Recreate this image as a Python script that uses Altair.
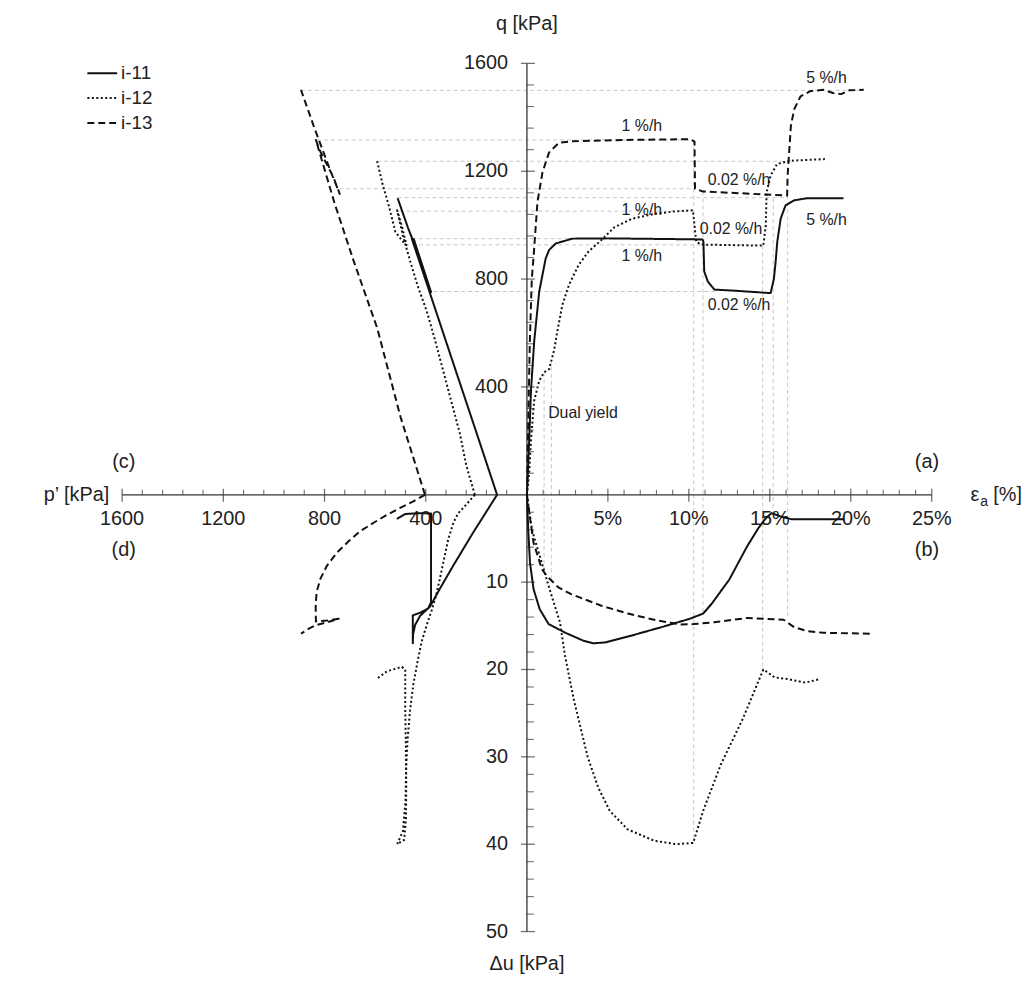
import altair as alt
import pandas as pd

K = 32.4      # plot units per kPa of pore pressure (lower half)
PK = 64.0     # kPa of p' per plot unit (left half)
FONT = "Liberation Sans"
TXT = "#222222"
AX = "#333333"

TESTS = ["i-11", "i-12", "i-13"]

# ---- (a) axial strain [%] vs q [kPa]
I11_A_EA = [0, 0.14, 0.25, 0.45, 0.76, 1.16, 1.37, 1.78, 2.8, 5.0, 8.0, 10.85, 10.9, 10.95, 11.17, 11.58, 12.8, 15.05, 15.25, 15.36, 15.46, 15.67, 15.97, 16.5, 17.3, 19.55]
I11_A_Q = [0, 202, 386, 570, 754, 877, 908, 932, 950, 951, 949, 947, 938, 828, 791, 761, 757, 748, 800, 865, 938, 1024, 1073, 1092, 1100, 1100]
I12_A_EA = [0, 0.14, 0.25, 0.45, 0.76, 1.06, 1.37, 1.67, 1.88, 2.19, 2.6, 3.2, 3.8, 4.6, 5.4, 6.5, 7.9, 9.1, 10.25, 10.35, 10.45, 10.77, 14.6, 14.75, 14.8, 15.05, 15.45, 16.3, 18.4]
I12_A_Q = [0, 80, 202, 350, 423, 454, 466, 534, 607, 705, 779, 853, 902, 945, 992, 1024, 1042, 1051, 1055, 1000, 938, 928, 924, 1000, 1122, 1184, 1227, 1239, 1245]
I13_A_EA = [0, 0.1, 0.18, 0.3, 0.42, 0.65, 0.96, 1.37, 1.98, 2.8, 6.0, 10.05, 10.35, 10.38, 10.87, 16.07, 16.1, 16.3, 16.5, 16.9, 17.5, 18.3, 18.9, 19.4, 19.9, 20.8]
I13_A_Q = [0, 325, 570, 800, 890, 1086, 1196, 1270, 1306, 1311, 1316, 1319, 1310, 1135, 1125, 1110, 1185, 1368, 1429, 1478, 1497, 1502, 1490, 1486, 1500, 1502]

# ---- (b) axial strain [%] vs excess pore pressure [kPa]
I11_B_EA = [0, 0.08, 0.19, 0.41, 0.79, 1.34, 2.38, 3.48, 4.1, 4.85, 6.49, 8.41, 10.05, 10.88, 11.4, 12.5, 13.6, 14.3, 14.7, 15.1, 15.7, 16.35, 19.6]
I11_B_DU = [0, 4.0, 7.8, 10.8, 13.1, 14.8, 15.8, 16.7, 17.0, 16.9, 16.1, 15.1, 14.2, 13.6, 12.5, 9.7, 5.9, 3.8, 2.8, 2.1, 2.5, 2.8, 2.8]
I12_B_EA = [0, 0.31, 0.92, 1.53, 2.04, 2.35, 2.9, 3.75, 4.4, 5.12, 6.22, 7.86, 9.23, 10.27, 10.88, 11.97, 13.34, 14.6, 15.3, 16.1, 17.2, 18.1]
I12_B_DU = [0, 4.0, 7.8, 11.6, 14.6, 18.4, 23.5, 30.0, 33.5, 36.2, 38.3, 39.6, 40.0, 39.85, 36.2, 30.9, 25.6, 20.0, 20.9, 21.1, 21.5, 21.1]
I13_B_EA = [0, 0.2, 0.41, 0.92, 1.23, 1.94, 2.76, 4.6, 6.24, 8.08, 9.5, 10.3, 11.55, 13.6, 14.6, 15.85, 16.5, 17.3, 18.3, 21.3]
I13_B_DU = [0, 2.8, 5.5, 8.5, 9.3, 10.6, 11.4, 12.7, 13.6, 14.4, 14.85, 14.8, 14.6, 14.1, 14.2, 14.3, 15.15, 15.6, 15.8, 15.9]

# ---- (c) p' [kPa] vs q [kPa]
I11_C_P = [118, 200, 300, 400, 455, 447, 382, 379, 420, 470, 511]
I11_C_Q = [0, 232, 513, 795, 950, 948, 760, 752, 870, 990, 1100]
I12_C_P = [206, 240, 265, 300, 331, 365, 396, 430, 461, 490, 513, 495, 476, 481, 520, 546, 570, 592]
I12_C_Q = [0, 110, 227, 350, 460, 580, 681, 770, 865, 960, 1055, 1000, 926, 928, 975, 1073, 1150, 1237]
I13_C_P = [403, 500, 592, 684, 760, 834, 821, 805, 788, 762, 740, 780, 840, 893]
I13_C_Q = [0, 290, 619, 865, 1080, 1316, 1282, 1250, 1221, 1171, 1116, 1210, 1360, 1502]

# ---- (d) p' [kPa] vs excess pore pressure [kPa]
I11_D_P = [118, 212, 291, 344, 383, 422, 442, 450, 451, 451, 422, 390, 379, 379, 379, 422, 481, 514]
I11_D_DU = [0, 4.3, 8.1, 10.75, 12.8, 13.85, 14.9, 16.0, 17.0, 13.8, 13.5, 13.0, 12.3, 5.85, 2.15, 2.1, 2.2, 2.75]
I12_D_P = [206, 239, 271, 291, 311, 328, 344, 359, 376, 396, 416, 431, 449, 462, 472, 477, 480, 490, 513, 485, 478, 477, 479, 481, 481, 494, 553, 595]
I12_D_DU = [0, 1.1, 2.1, 3.2, 5.1, 7.4, 9.6, 11.5, 13.2, 14.9, 16.8, 18.9, 21.7, 24.7, 28.1, 31.1, 35.0, 38.5, 40.0, 39.5, 37.0, 33.0, 28.0, 24.7, 20.0, 19.7, 20.2, 21.1]
I13_D_P = [403, 449, 501, 553, 606, 658, 704, 750, 790, 816, 831, 835, 834, 790, 744, 790, 832, 860, 893]
I13_D_DU = [0, 0.75, 1.5, 2.3, 3.2, 4.15, 5.3, 6.6, 8.1, 9.6, 11.1, 12.6, 14.5, 14.4, 14.2, 14.6, 14.9, 15.3, 15.9]

# ---- grey guide lines
HG_Q = [1500, 1316, 1237, 1135, 1102, 1052, 950, 927, 754]
HG_P = [893, 830, 592, 742, 511, 505, 455, 481, 370]
HG_EA = [20.8, 10.3, 16.3, 10.4, 16.1, 10.25, 10.87, 14.6, 11.6]
VG_EA = [1.06, 1.51, 10.3, 10.87, 14.56, 15.21, 16.1]
VG_Q = [454, 500, 1316, 1125, 924, 1100, 1110]
VG_DU = [8.5, 10.0, 40.0, 13.6, 20.0, 2.1, 14.3]

# ---- annotations in quadrant (a)
ANN_TEXT = ["1 %/h", "0.02 %/h", "5 %/h", "1 %/h", "0.02 %/h", "5 %/h", "1 %/h", "0.02 %/h", "Dual yield"]
ANN_EA = [7.1, 13.1, 18.5, 7.1, 12.6, 18.5, 7.1, 13.1, 3.46]
ANN_Q = [1368, 1166, 1545, 1056, 987, 1019, 887, 705, 302]

# ---- axes
P_MAJOR = [1600, 1200, 800, 400]
EA_MAJOR = [5, 10, 15, 20, 25]
Q_MAJOR = [400, 800, 1200, 1600]
DU_MAJOR = [10, 20, 30, 40, 50]
P_MINOR = [80 * i for i in range(1, 20) if i % 5]
EA_MINOR = [i for i in range(1, 25) if i % 5]
Q_MINOR = [80 * i for i in range(1, 20) if i % 5]
DU_MINOR = [2 * i for i in range(1, 25) if i % 5]

QUAD_LABELS = ["(a)", "(b)", "(c)", "(d)"]

# ---------------------------------------------------------------- tables
rows = []
def add(test, quad, xs, ys):
    for i, (a, b) in enumerate(zip(xs, ys)):
        if quad == "a":
            x, y = a, b
        elif quad == "b":
            x, y = a, -b * K
        elif quad == "c":
            x, y = -a / PK, b
        else:
            x, y = -a / PK, -b * K
        rows.append(dict(test=test, seg=test + quad, seq=i, x=x, y=y))

add("i-11", "a", I11_A_EA, I11_A_Q); add("i-12", "a", I12_A_EA, I12_A_Q); add("i-13", "a", I13_A_EA, I13_A_Q)
add("i-11", "b", I11_B_EA, I11_B_DU); add("i-12", "b", I12_B_EA, I12_B_DU); add("i-13", "b", I13_B_EA, I13_B_DU)
add("i-11", "c", I11_C_P, I11_C_Q); add("i-12", "c", I12_C_P, I12_C_Q); add("i-13", "c", I13_C_P, I13_C_Q)
add("i-11", "d", I11_D_P, I11_D_DU); add("i-12", "d", I12_D_P, I12_D_DU); add("i-13", "d", I13_D_P, I13_D_DU)
lines_df = pd.DataFrame(rows)

guides = []
for q, p, e in zip(HG_Q, HG_P, HG_EA):
    guides.append(dict(x=-p / PK, x2=e, y=q, y2=q))
for e, q, d in zip(VG_EA, VG_Q, VG_DU):
    guides.append(dict(x=e, x2=e, y=q, y2=-d * K))
guides_df = pd.DataFrame(guides)

ann_df = pd.DataFrame(dict(x=ANN_EA, y=ANN_Q, t=ANN_TEXT))

YMIN = -50 * K
XS = alt.Scale(domain=[-25, 25], nice=False, zero=False)
YS = alt.Scale(domain=[YMIN, 1600], nice=False, zero=False)

def X(f="x"):
    return alt.X(f, type="quantitative", scale=XS, axis=None)

def Y(f="y"):
    return alt.Y(f, type="quantitative", scale=YS, axis=None)

# axis lines
axis_df = pd.DataFrame([dict(x=-25, x2=25, y=0, y2=0), dict(x=0, x2=0, y=YMIN, y2=1600)])
axis_lines = alt.Chart(axis_df).mark_rule(color=AX, strokeWidth=1.3).encode(
    x=X(), x2="x2:Q", y=Y(), y2="y2:Q")

xmaj_df = pd.DataFrame(dict(x=[-p / PK for p in P_MAJOR] + EA_MAJOR, y=0,
                            t=[str(p) for p in P_MAJOR] + [f"{e}%" for e in EA_MAJOR]))
xmin_df = pd.DataFrame(dict(x=[-p / PK for p in P_MINOR] + EA_MINOR, y=0))
ymaj_df = pd.DataFrame(dict(x=0, y=Q_MAJOR + [-d * K for d in DU_MAJOR],
                            t=[str(q) for q in Q_MAJOR] + [str(d) for d in DU_MAJOR]))
ymin_df = pd.DataFrame(dict(x=0, y=Q_MINOR + [-d * K for d in DU_MINOR]))

xmaj_ticks = alt.Chart(xmaj_df).mark_tick(orient="vertical", size=13, thickness=1.3, color=AX, yOffset=0.5).encode(x=X(), y=Y())
xmin_ticks = alt.Chart(xmin_df).mark_tick(orient="vertical", size=5, thickness=1.1, color=AX, yOffset=-2.5).encode(x=X(), y=Y())
ymaj_ticks = alt.Chart(ymaj_df).mark_tick(orient="horizontal", size=14, thickness=1.3, color=AX, xOffset=1).encode(x=X(), y=Y())
ymin_ticks = alt.Chart(ymin_df).mark_tick(orient="horizontal", size=7, thickness=1.1, color=AX, xOffset=3.5).encode(x=X(), y=Y())

xlabels = alt.Chart(xmaj_df).mark_text(font=FONT, fontSize=20, color=TXT, dy=24, baseline="middle").encode(x=X(), y=Y(), text="t:N")
ylabels = alt.Chart(ymaj_df).mark_text(font=FONT, fontSize=20, color=TXT, dx=-19, align="right", baseline="middle").encode(x=X(), y=Y(), text="t:N")

# axis titles
t_q = alt.Chart(pd.DataFrame(dict(x=[0], y=[1600], t=["q [kPa]"]))).mark_text(
    font=FONT, fontSize=20, color=TXT, dy=-40, baseline="middle").encode(x=X(), y=Y(), text="t:N")
t_du = alt.Chart(pd.DataFrame(dict(x=[0], y=[YMIN], t=["Δu [kPa]"]))).mark_text(
    font=FONT, fontSize=20, color=TXT, dy=33, baseline="middle").encode(x=X(), y=Y(), text="t:N")
t_p = alt.Chart(pd.DataFrame(dict(x=[-25], y=[0], t=["p’ [kPa]"]))).mark_text(
    font=FONT, fontSize=20, color=TXT, dx=-13, align="right", baseline="middle").encode(x=X(), y=Y(), text="t:N")
t_e1 = alt.Chart(pd.DataFrame(dict(x=[25], y=[0], t=["ε"]))).mark_text(
    font=FONT, fontSize=20, color=TXT, dx=39, align="left", baseline="middle").encode(x=X(), y=Y(), text="t:N")
t_e2 = alt.Chart(pd.DataFrame(dict(x=[25], y=[0], t=["a"]))).mark_text(
    font=FONT, fontSize=14, color=TXT, dx=49, dy=7, align="left", baseline="middle").encode(x=X(), y=Y(), text="t:N")
t_e3 = alt.Chart(pd.DataFrame(dict(x=[25], y=[0], t=["[%]"]))).mark_text(
    font=FONT, fontSize=20, color=TXT, dx=62, align="left", baseline="middle").encode(x=X(), y=Y(), text="t:N")

quad_df = pd.DataFrame(dict(x=[24.7, 24.7, -24.9, -24.9], y=[121, -206, 121, -206], t=QUAD_LABELS))
quad = alt.Chart(quad_df).mark_text(font=FONT, fontSize=20, color=TXT, baseline="middle").encode(x=X(), y=Y(), text="t:N")

guide_lines = alt.Chart(guides_df).mark_rule(color="#c8c8c8", strokeWidth=1, strokeDash=[4, 3]).encode(
    x=X(), x2="x2:Q", y=Y(), y2="y2:Q")

ann = alt.Chart(ann_df).mark_text(font=FONT, fontSize=16, color=TXT, baseline="middle").encode(x=X(), y=Y(), text="t:N")

curves = alt.Chart(lines_df).mark_line(color="#111111", strokeJoin="round").encode(
    x=X(), y=Y(), detail="seg:N", order="seq:Q",
    strokeDash=alt.StrokeDash("test:N", scale=alt.Scale(domain=TESTS, range=[[1, 0], [2, 2.5], [7, 4]]),
                              legend=alt.Legend(orient="none", legendX=-31, legendY=-1, title=None,
                                                symbolType="M-1.5,0L1.5,0", symbolSize=400, symbolStrokeWidth=2,
                                                symbolStrokeColor="#111111", labelFont=FONT, labelFontSize=19,
                                                labelColor=TXT, rowPadding=4, labelOffset=8)),
    strokeWidth=alt.StrokeWidth("test:N", scale=alt.Scale(domain=TESTS, range=[2, 2, 2.4]), legend=None),
)

chart = alt.layer(
    guide_lines, axis_lines, xmaj_ticks, xmin_ticks, ymaj_ticks, ymin_ticks,
    xlabels, ylabels, t_q, t_du, t_p, t_e1, t_e2, t_e3, quad, ann, curves,
).properties(
    width=816, height=875,
    background="white",
    autosize=alt.AutoSizeParams(type="none"),
    padding={"left": 115, "top": 52, "right": 96, "bottom": 46},
).configure_view(stroke=None)

chart.save("out.html", embed_options={"renderer": "svg", "actions": False})
